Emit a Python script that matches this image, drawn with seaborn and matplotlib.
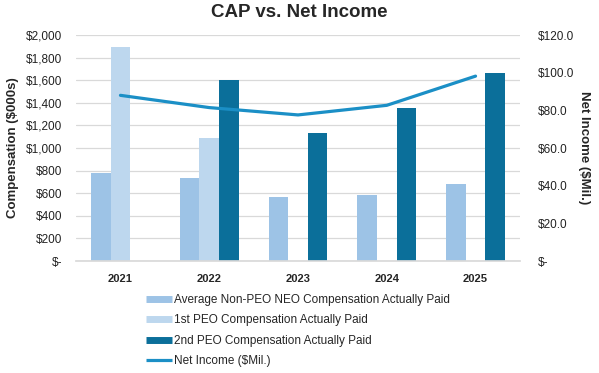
import numpy as np
import pandas as pd
import matplotlib
matplotlib.use("Agg")
import matplotlib.pyplot as plt
from matplotlib.lines import Line2D
from matplotlib.ticker import FuncFormatter
import seaborn as sns

years = ["2021", "2022", "2023", "2024", "2025"]
non_peo = [782, 735, 566, 587, 684]
peo1 = [1894, 1091, np.nan, np.nan, np.nan]
peo2 = [np.nan, 1602, 1133, 1357, 1667]
net_income = [88.0, 81.5, 77.6, 82.7, 98.2]

series_names = ["Average Non-PEO NEO Compensation Actually Paid",
                "1st PEO Compensation Actually Paid",
                "2nd PEO Compensation Actually Paid"]
line_name = "Net Income ($Mil.)"
colors = ["#9dc3e6", "#bdd7ee", "#0b6f9a"]
line_color = "#1b8fc6"

sns.set_theme(style="white")
plt.rcParams['font.family'] = ['Liberation Sans', 'DejaVu Sans']

df = pd.DataFrame({
    "Year": years * 3,
    "Series": [series_names[0]] * 5 + [series_names[1]] * 5 + [series_names[2]] * 5,
    "Value": non_peo + peo1 + peo2,
})

fig = plt.figure(figsize=(5.99, 3.73), dpi=100)
ax = fig.add_axes([0.127, 0.300, 0.741, 0.606])

sns.barplot(data=df, x="Year", y="Value", hue="Series", hue_order=series_names,
            order=years, palette=colors, width=0.66, saturation=1, ax=ax,
            legend=False, linewidth=0)

ax.set_ylim(0, 2000)
ax.set_yticks(np.arange(0, 2001, 200))
ax.yaxis.set_major_formatter(FuncFormatter(lambda v, p: "$-" if v == 0 else f"${v:,.0f}"))
ax.grid(axis="y", color="#d9d9d9", linewidth=0.9)
ax.set_axisbelow(True)
for s in ["top", "right", "left"]:
    ax.spines[s].set_visible(False)
ax.spines["bottom"].set_color("#d9d9d9")
ax.tick_params(axis="both", length=0)
ax.tick_params(axis="y", labelsize=8.5, colors="#222222", pad=10)
ax.tick_params(axis="x", labelsize=8, pad=9)
for lbl in ax.get_xticklabels():
    lbl.set_fontweight("bold")
ax.set_xlabel("")
ax.set_ylabel("Compensation ($000s)", fontsize=9.5, fontweight="bold", labelpad=5)

ax2 = ax.twinx()
sns.lineplot(x=np.arange(len(years)), y=net_income, color=line_color, linewidth=2.3,
             sort=False, ax=ax2, legend=False)
ax2.set_ylim(0, 120)
ax2.set_yticks(np.arange(0, 121, 20))
ax2.yaxis.set_major_formatter(FuncFormatter(lambda v, p: "$-" if v == 0 else f"${v:.1f}"))
for s in ["top", "right", "left", "bottom"]:
    ax2.spines[s].set_visible(False)
ax2.tick_params(axis="y", length=0, labelsize=8.5, colors="#222222", pad=13)
ax2.set_ylabel("Net Income ($Mil.)", fontsize=9.5, fontweight="bold", rotation=270, labelpad=11)
ax.set_xlim(-0.5, len(years) - 0.5)

fig.suptitle("CAP vs. Net Income", fontsize=13.5, fontweight="bold", x=0.5, y=0.99)

handles = [Line2D([0], [0], color=colors[0], linewidth=5, solid_capstyle="butt"),
           Line2D([0], [0], color=colors[1], linewidth=5, solid_capstyle="butt"),
           Line2D([0], [0], color=colors[2], linewidth=5, solid_capstyle="butt"),
           Line2D([0], [0], color=line_color, linewidth=2.3, solid_capstyle="butt")]
fig.legend(handles, series_names + [line_name], loc="upper left",
           bbox_to_anchor=(0.243, 0.212), frameon=False, fontsize=8.5, borderpad=0,
           borderaxespad=0, handlelength=2.2, handletextpad=0.2, labelspacing=0.72)

fig.savefig("out.png", dpi=100)
